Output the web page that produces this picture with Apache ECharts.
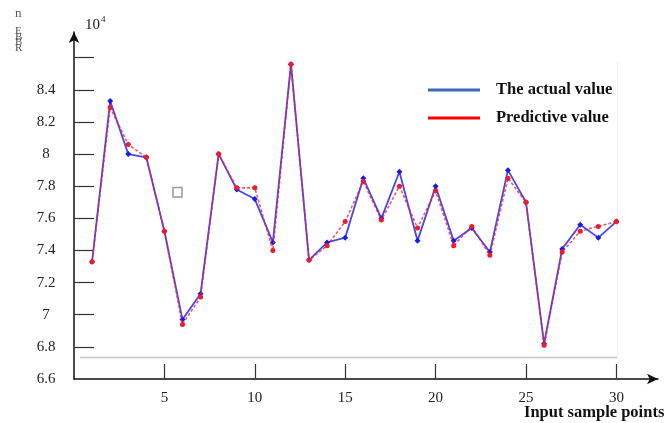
<!DOCTYPE html>
<html>
<head>
<meta charset="utf-8">
<script src="https://cdn.jsdelivr.net/npm/echarts@6/dist/echarts.min.js"></script>
<style>html,body{margin:0;padding:0;background:#fff;}#c{width:664px;height:423px;}</style>
</head>
<body>
<div id="c"></div>
<script>
const samples = [1,2,3,4,5,6,7,8,9,10,11,12,13,14,15,16,17,18,19,20,21,22,23,24,25,26,27,28,29,30];
const actual = [7.33, 8.33, 8.00, 7.98, 7.52, 6.97, 7.13, 8.00, 7.78, 7.72, 7.45, 8.56, 7.34, 7.45, 7.48, 7.85, 7.60, 7.89, 7.46, 7.80, 7.46, 7.54, 7.39, 7.90, 7.70, 6.82, 7.41, 7.56, 7.48, 7.58];
const predicted = [7.33, 8.29, 8.06, 7.98, 7.52, 6.94, 7.11, 8.00, 7.79, 7.79, 7.40, 8.56, 7.34, 7.43, 7.58, 7.83, 7.59, 7.80, 7.54, 7.77, 7.43, 7.55, 7.37, 7.85, 7.70, 6.81, 7.39, 7.52, 7.55, 7.58];
const xTicks = [5, 10, 15, 20, 25, 30];
const yLabels = [6.6, 6.8, 7, 7.2, 7.4, 7.6, 7.8, 8, 8.2, 8.4];
const yTicks = [6.8, 7, 7.2, 7.4, 7.6, 7.8, 8, 8.2, 8.4, 8.6];
const seriesNames = ['The actual value', 'Predictive value'];

const FONT = '"Liberation Serif", "DejaVu Serif", serif';
const chart = echarts.init(document.getElementById('c'), null, {renderer: 'canvas'});
chart.setOption({
  backgroundColor: '#ffffff',
  animation: false,
  grid: {left: 74, right: 6, top: 32, bottom: 44, containLabel: false},
  xAxis: {
    type: 'value', min: 0, max: 32.3,
    axisLine: {show: true, lineStyle: {color: '#111', width: 1.5}, symbol: ['none', 'arrow'], symbolSize: [8, 11]},
    axisTick: {show: true, inside: true, length: 15, customValues: xTicks, lineStyle: {color: '#333', width: 1.2}},
    axisLabel: {customValues: xTicks, margin: 12, fontFamily: FONT, fontSize: 15, color: '#222'},
    splitLine: {show: false}
  },
  yAxis: {
    type: 'value', min: 6.6, max: 8.76,
    axisLine: {show: true, lineStyle: {color: '#111', width: 1.5}, symbol: ['none', 'arrow'], symbolSize: [8, 11]},
    axisTick: {show: true, inside: true, length: 20, customValues: yTicks, lineStyle: {color: '#333', width: 1.2}},
    axisLabel: {customValues: yLabels, margin: 28, align: 'center', fontFamily: FONT, fontSize: 15, color: '#222',
      formatter: v => String(+(+v).toFixed(1))},
    splitLine: {show: false}
  },
  legend: {
    orient: 'vertical', left: 423, top: 76, itemWidth: 52, itemHeight: 3, itemGap: 10,
    textStyle: {fontFamily: FONT, fontSize: 16.5, fontWeight: 'bold', color: '#111', lineHeight: 18, padding: [0, 0, 0, 11]},
    data: [
      {name: seriesNames[0], icon: 'rect', itemStyle: {color: '#3d6cb6'}},
      {name: seriesNames[1], icon: 'rect', itemStyle: {color: '#ff0000'}}
    ]
  },
  series: [
    {
      name: seriesNames[0], type: 'line',
      data: samples.map((x, i) => [x, actual[i]]),
      symbol: 'diamond', symbolSize: 6,
      itemStyle: {color: '#1a1ae6'},
      lineStyle: {color: '#4a46ee', width: 1.8},
      z: 2
    },
    {
      name: seriesNames[1], type: 'line',
      data: samples.map((x, i) => [x, predicted[i]]),
      symbol: 'circle', symbolSize: 5,
      itemStyle: {color: '#f01a2a'},
      lineStyle: {color: 'rgba(240,30,50,0.75)', width: 1.6, type: [3, 2]},
      z: 3
    }
  ],
  graphic: [
    {type: 'line', shape: {x1: 80, y1: 357.5, x2: 617, y2: 357.5}, style: {stroke: '#c4c4c4', lineWidth: 1.5}, silent: true},
    {type: 'line', shape: {x1: 617.5, y1: 62, x2: 617.5, y2: 357}, style: {stroke: '#f0f0f4', lineWidth: 1}, silent: true},
    {type: 'rect', shape: {x: 173, y: 187.5, width: 9, height: 9.5}, style: {fill: 'none', stroke: '#999', lineWidth: 1.5}, silent: true},
    {type: 'text', left: 85, top: 18, style: {text: '10', font: '15px ' + FONT, fill: '#222'}},
    {type: 'text', left: 101, top: 15, style: {text: '4', font: '9px ' + FONT, fill: '#222'}},
    {type: 'text', left: 15, top: 7, style: {text: 'n', font: '13px ' + FONT, fill: '#555'}},
    {type: 'text', left: 15, top: 26, style: {text: 'E', font: '11px ' + FONT, fill: '#555'}},
    {type: 'text', left: 15, top: 32, style: {text: 'B', font: '11px ' + FONT, fill: '#555'}},
    {type: 'text', left: 15, top: 37, style: {text: 'B', font: '11px ' + FONT, fill: '#555'}},
    {type: 'text', left: 15, top: 43, style: {text: 'R', font: '11px ' + FONT, fill: '#555'}},
    {type: 'text', left: 524, top: 404, style: {text: 'Input sample points', font: 'bold 16.5px ' + FONT, fill: '#111'}}
  ]
});
</script>
</body>
</html>
